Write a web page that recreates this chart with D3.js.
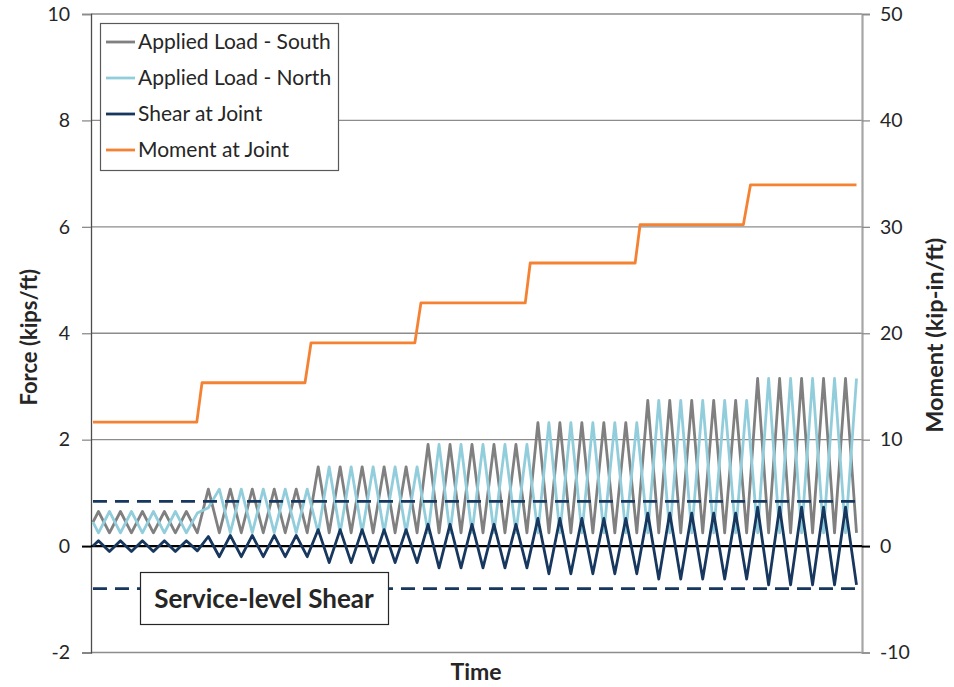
<!DOCTYPE html>
<html>
<head>
<meta charset="utf-8">
<script src="https://cdn.jsdelivr.net/npm/d3@7/dist/d3.min.js"></script>
<style>
  html, body { margin: 0; padding: 0; background: #fff; }
  svg { display: block; }
  text { font-family: Lato, "Open Sans", sans-serif; fill: #262626; }
</style>
</head>
<body>
<svg id="chart" width="954" height="687"></svg>
<script>
// ---------------- DATA ----------------
// time samples (half-cycle points, arbitrary units)
const time = [0,1,3,5,7,9,11,13,15,17,19,21,23,25,27,29,31,33,35,37,39,41,43,45,47,49,51,53,55,57,59,61,63,65,67,69,71,73,75,77,79,81,83,85,87,89,91,93,95,97,99,101,103,105,107,109,111,113,115,117,119,121,123,125,127,129,131,133,135,137,139];

const appliedSouth = [0.45,
  0.65,0.25,0.65,0.25,0.65,0.25,0.65,0.25,0.65,0.25,
  1.07,0.25,1.07,0.25,1.07,0.25,1.07,0.25,1.07,0.25,
  1.49,0.25,1.49,0.25,1.49,0.25,1.49,0.25,1.49,0.25,
  1.91,0.25,1.91,0.25,1.91,0.25,1.91,0.25,1.91,0.25,
  2.32,0.25,2.32,0.25,2.32,0.25,2.32,0.25,2.32,0.25,
  2.74,0.25,2.74,0.25,2.74,0.25,2.74,0.25,2.74,0.25,
  3.15,0.25,3.15,0.25,3.15,0.25,3.15,0.25,3.15,0.25];

const appliedNorth = [0.45,
  0.25,0.65,0.25,0.65,0.25,0.65,0.25,0.65,0.25,0.62,
  0.72,1.07,0.25,1.07,0.25,1.07,0.25,1.07,0.25,1.07,
  0.25,1.49,0.25,1.49,0.25,1.49,0.25,1.49,0.25,1.49,
  0.25,1.91,0.25,1.91,0.25,1.91,0.25,1.91,0.25,1.91,
  0.25,2.32,0.25,2.32,0.25,2.32,0.25,2.32,0.25,2.32,
  0.25,2.74,0.25,2.74,0.25,2.74,0.25,2.74,0.25,2.74,
  0.25,3.15,0.25,3.15,0.25,3.15,0.25,3.15,0.25,3.15];

const shearJoint = [0.0,
  0.10,-0.10,0.10,-0.10,0.10,-0.10,0.10,-0.10,0.10,-0.09,
  0.18,-0.20,0.20,-0.20,0.20,-0.20,0.20,-0.20,0.20,-0.20,
  0.31,-0.31,0.31,-0.31,0.31,-0.31,0.31,-0.31,0.31,-0.31,
  0.41,-0.41,0.41,-0.41,0.41,-0.41,0.41,-0.41,0.41,-0.41,
  0.52,-0.52,0.52,-0.52,0.52,-0.52,0.52,-0.52,0.52,-0.52,
  0.62,-0.62,0.62,-0.62,0.62,-0.62,0.62,-0.62,0.62,-0.62,
  0.73,-0.73,0.73,-0.73,0.73,-0.73,0.73,-0.73,0.73,-0.73];

const momentTime  = [0, 18.9, 19.85, 38.6, 39.7, 58.6, 59.7, 78.7, 79.6, 98.7, 99.6, 118.4, 119.7, 139];
const momentJoint = [11.65, 11.65, 15.35, 15.35, 19.1, 19.1, 22.85, 22.85, 26.6, 26.6, 30.2, 30.2, 33.95, 33.95];

const serviceShear = [0.84, -0.80];

const forceTicks  = [-2, 0, 2, 4, 6, 8, 10];
const momentTicks = [-10, 0, 10, 20, 30, 40, 50];

const seriesNames = ["Applied Load - South", "Applied Load - North", "Shear at Joint", "Moment at Joint"];
const seriesColors = ["#808080", "#92CDDC", "#17375E", "#F58233"];

// ---------------- LAYOUT ----------------
const svg = d3.select("#chart");
const L = 91, R = 862, T = 14, B = 652.5;

const x = d3.scaleLinear().domain([-0.36, 140]).range([L, R]);
const yF = d3.scaleLinear().domain([-2, 10]).range([B, T]);
const yM = d3.scaleLinear().domain([-10, 50]).range([B, T]);

// gridlines
svg.append("g").selectAll("line")
  .data(forceTicks.filter(d => d !== 0))
  .join("line")
  .attr("x1", L).attr("x2", R)
  .attr("y1", d => yF(d)).attr("y2", d => yF(d))
  .attr("stroke", "#8c8c8c").attr("stroke-width", 1.3);

const fmt = d => String(d);

// left axis
const axL = svg.append("g").attr("transform", `translate(${L},0)`)
  .call(d3.axisLeft(yF).tickValues(forceTicks).tickSize(9).tickPadding(12).tickFormat(fmt));
axL.select(".domain").attr("stroke", "#4d4d4d").attr("stroke-width", 1.3);
axL.selectAll(".tick line").attr("stroke", d => d === 0 ? "#000" : "#8c8c8c").attr("stroke-width", d => d === 0 ? 2 : 1.3);
axL.selectAll(".tick text").attr("font-size", 19.5).attr("font-family", "Lato, sans-serif").attr("fill", "#333");

// right axis
const axR = svg.append("g").attr("transform", `translate(${R},0)`)
  .call(d3.axisRight(yM).tickValues(momentTicks).tickSize(8).tickPadding(10).tickFormat(fmt));
axR.select(".domain").attr("stroke", "#a6a6a6").attr("stroke-width", 2.2);
axR.selectAll(".tick line").attr("stroke", d => d === 0 ? "#000" : "#8c8c8c").attr("stroke-width", d => d === 0 ? 2 : 1.3);
axR.selectAll(".tick text").attr("font-size", 19.5).attr("font-family", "Lato, sans-serif").attr("fill", "#333");

// zero line
svg.append("line").attr("x1", L).attr("x2", R).attr("y1", yF(0)).attr("y2", yF(0))
  .attr("stroke", "#000").attr("stroke-width", 2.2);

// series lines
const lineF = (vals) => d3.line().x((d, i) => x(time[i])).y(d => yF(d))(vals);
const seriesVals = [appliedSouth, appliedNorth, shearJoint];
seriesVals.forEach((vals, k) => {
  svg.append("path").attr("d", lineF(vals))
    .attr("fill", "none").attr("stroke", seriesColors[k]).attr("stroke-width", 2.8)
    .attr("stroke-linejoin", "round");
});

// service level shear dashed
svg.append("g").selectAll("line").data(serviceShear).join("line")
  .attr("x1", x(time[0])).attr("x2", x(time[time.length - 1]))
  .attr("y1", d => yF(d)).attr("y2", d => yF(d))
  .attr("stroke", "#17375E").attr("stroke-width", 2.6).attr("stroke-dasharray", "14,8");

// moment line
svg.append("path")
  .attr("d", d3.line().x((d, i) => x(momentTime[i])).y(d => yM(d))(momentJoint))
  .attr("fill", "none").attr("stroke", seriesColors[3]).attr("stroke-width", 2.8)
  .attr("stroke-linejoin", "round");

// legend
const lg = svg.append("g");
lg.append("rect").attr("x", 100.5).attr("y", 23.5).attr("width", 238).attr("height", 147)
  .attr("fill", "#fff").attr("stroke", "#595959").attr("stroke-width", 1.2);
seriesNames.forEach((name, i) => {
  const cy = 42 + i * 36;
  lg.append("line").attr("x1", 106).attr("x2", 135).attr("y1", cy).attr("y2", cy)
    .attr("stroke", seriesColors[i]).attr("stroke-width", 2.8);
  lg.append("text").attr("x", 138).attr("y", cy).attr("dy", "0.35em")
    .attr("font-size", 21).attr("fill", "#262626").text(name);
});

// service-level shear label box
svg.append("rect").attr("x", 140.5).attr("y", 572.5).attr("width", 248).attr("height", 52)
  .attr("fill", "#fff").attr("stroke", "#262626").attr("stroke-width", 1.2);
svg.append("text").attr("x", 264).attr("y", 599).attr("dy", "0.35em").attr("text-anchor", "middle")
  .attr("font-size", 26).attr("font-weight", "bold").attr("fill", "#000").text("Service-level Shear");

// axis titles
svg.append("text").attr("transform", `translate(29,${(T + B) / 2 + 4}) rotate(-90)`)
  .attr("text-anchor", "middle").attr("dy", "0.35em")
  .attr("font-size", 22).attr("font-weight", "bold").attr("fill", "#000").text("Force (kips/ft)");
svg.append("text").attr("transform", `translate(935,${(T + B) / 2 + 2}) rotate(-90)`)
  .attr("text-anchor", "middle").attr("dy", "0.35em")
  .attr("font-size", 23.5).attr("font-weight", "bold").attr("fill", "#000").text("Moment (kip-in/ft)");
svg.append("text").attr("x", 476).attr("y", 672).attr("dy", "0.35em")
  .attr("text-anchor", "middle")
  .attr("font-size", 23).attr("font-weight", "bold").attr("fill", "#000").text("Time");
</script>
</body>
</html>
